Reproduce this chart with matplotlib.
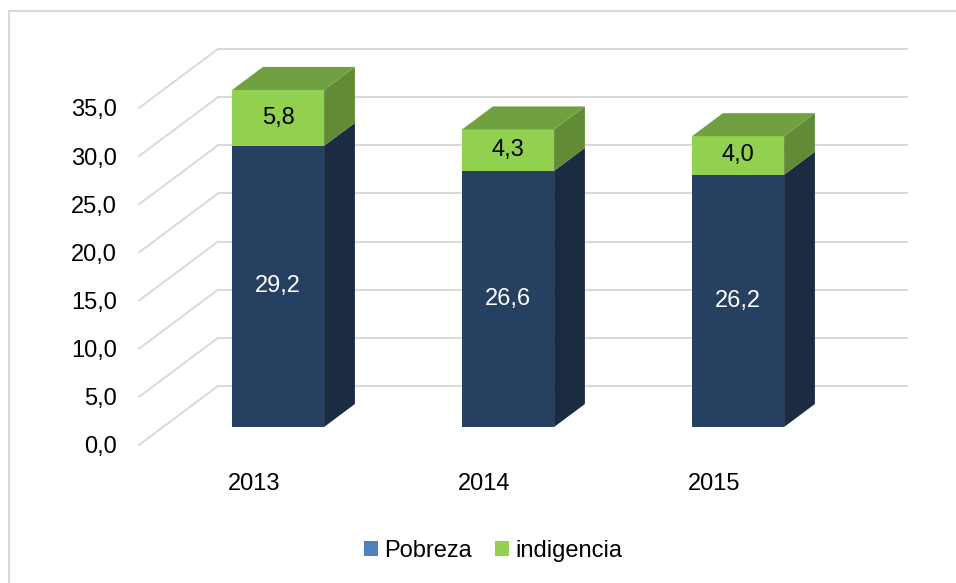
import matplotlib
matplotlib.use("Agg")
import matplotlib.pyplot as plt
from matplotlib.patches import Polygon, Patch, Rectangle

plt.rcParams.update({
    "font.family": ["Liberation Sans", "DejaVu Sans"],
    "font.size": 17,
})

# ── data ─────────────────────────────────────────────
years      = ["2013", "2014", "2015"]
pobreza    = [29.2, 26.6, 26.2]
indigencia = [5.8, 4.3, 4.0]
yticks     = [0, 5, 10, 15, 20, 25, 30, 35]
series     = ["Pobreza", "indigencia"]

# ── styles ───────────────────────────────────────────
BLUE_FRONT, BLUE_SIDE, BLUE_TOP = "#264061", "#1B2B42", "#1F3552"
GREEN_FRONT, GREEN_SIDE, GREEN_TOP = "#92D050", "#628B35", "#70A040"
LEGEND_COLORS = ["#4F81BD", "#92D050"]
GRID = "#D9D9D9"

W, H, DPI = 956, 583, 100
fig = plt.figure(figsize=(W / DPI, H / DPI), dpi=DPI)

# outer chart border
fig.patches.append(Rectangle((9 / W, -0.1), 1.2, 1 - 11 / H + 0.1,
                             transform=fig.transFigure, fill=False,
                             edgecolor=GRID, linewidth=1.5))

# axes: left = front-left corner of floor, bottom = front floor
px_left, px_right, px_bottom, px_top = 139, 907, 445, 48
ax = fig.add_axes([px_left / W, (H - px_bottom) / H,
                   (px_right - px_left) / W, (px_bottom - px_top) / H])
cat_px = 230.0          # pixels per category
val_px = 9.63           # pixels per unit on front plane
xmin = -0.5
xmax = xmin + (px_right - px_left) / cat_px
ymax = (px_bottom - px_top) / val_px
ax.set_xlim(xmin, xmax)
ax.set_ylim(0, ymax)

# depth offset (in data units)
DX = 79 / cat_px
DY = 59 / val_px
F0, F1 = 0.305, 0.695   # bar front / back depth fraction
BW = 0.4

for s in ax.spines.values():
    s.set_visible(False)
ax.patch.set_alpha(0)

# back wall gridlines + slanted side lines
for v in yticks:
    ax.plot([xmin + DX, xmax], [v + DY, v + DY], color=GRID, lw=1.4,
            clip_on=False, zorder=1)
    ax.plot([xmin, xmin + DX], [v, v + DY], color=GRID, lw=1.4,
            clip_on=False, zorder=1)


def box(x, y0, y1, front, side, top, draw_top):
    xl = x - BW / 2 + F0 * DX
    xr = x + BW / 2 + F0 * DX
    b0, t0 = y0 + F0 * DY, y1 + F0 * DY
    ddx, ddy = (F1 - F0) * DX, (F1 - F0) * DY
    ax.add_patch(Polygon([(xl, b0), (xr, b0), (xr, t0), (xl, t0)],
                         closed=True, facecolor=front, edgecolor="none",
                         zorder=3, clip_on=False))
    ax.add_patch(Polygon([(xr, b0), (xr + ddx, b0 + ddy), (xr + ddx, t0 + ddy), (xr, t0)],
                         closed=True, facecolor=side, edgecolor="none",
                         zorder=3, clip_on=False))
    if draw_top:
        ax.add_patch(Polygon([(xl, t0), (xr, t0), (xr + ddx, t0 + ddy), (xl + ddx, t0 + ddy)],
                             closed=True, facecolor=top, edgecolor="none",
                             zorder=3, clip_on=False))
    return (xl + xr) / 2, (b0 + t0) / 2


for i, (p, g) in enumerate(zip(pobreza, indigencia)):
    cx, cy = box(i, 0, p, BLUE_FRONT, BLUE_SIDE, BLUE_TOP, False)
    ax.text(cx, cy, f"{p:.1f}".replace(".", ","), color="white",
            ha="center", va="center", zorder=5)
    cx, cy = box(i, p, p + g, GREEN_FRONT, GREEN_SIDE, GREEN_TOP, True)
    ax.text(cx, cy, f"{g:.1f}".replace(".", ","), color="black",
            ha="center", va="center", zorder=5)

ax.set_yticks(yticks)
ax.set_yticklabels([f"{v:.1f}".replace(".", ",") for v in yticks])
ax.set_xticks(range(len(years)))
ax.set_xticklabels(years)
ax.tick_params(axis="y", length=0, pad=16)
ax.tick_params(axis="x", length=0, pad=20)

handles = [Patch(facecolor=c, edgecolor="none", label=s)
           for c, s in zip(LEGEND_COLORS, series)]
fig.legend(handles=handles, loc="center", bbox_to_anchor=(493 / W, 1 - 551 / H),
           ncol=2, frameon=False, handlelength=0.6, handleheight=0.6,
           handletextpad=0.25, columnspacing=1.0, fontsize=17)

fig.savefig("out.png", dpi=DPI)
